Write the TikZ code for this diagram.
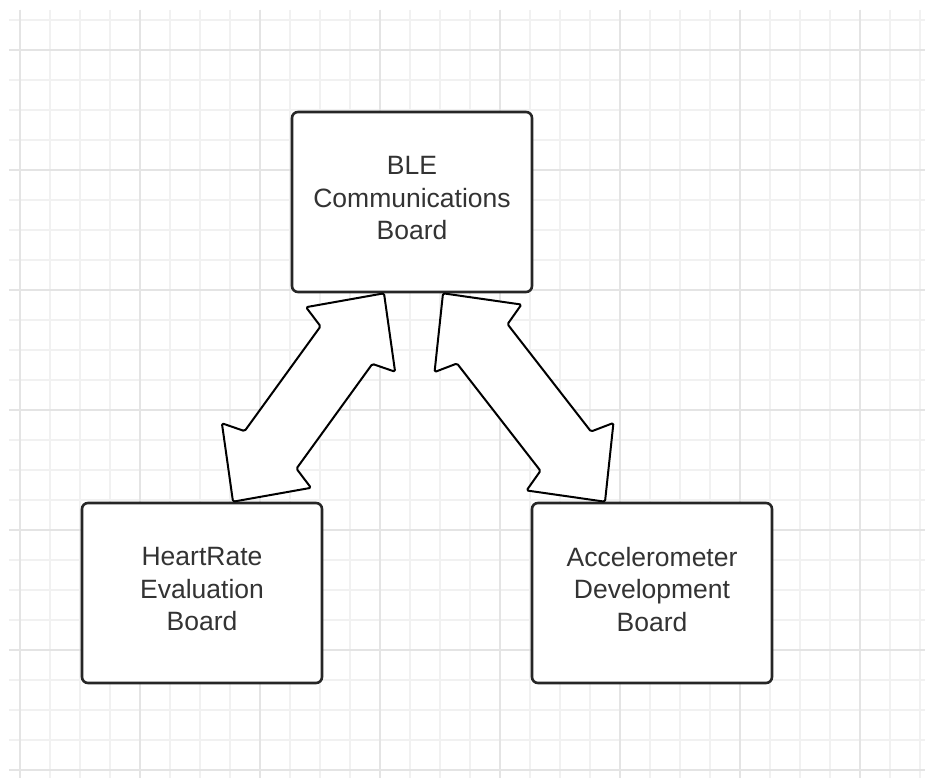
\documentclass[tikz,border=0pt]{standalone}
\usepackage{fontspec}
\setmainfont{Liberation Sans}
\usetikzlibrary{calc}
\definecolor{gridminor}{HTML}{F1F1F1}
\definecolor{gridmajor}{HTML}{E4E4E4}
\definecolor{boardtext}{HTML}{333333}
\tikzset{
  gridline/.style={draw=gridminor, line width=1.2pt},
  gridbold/.style={draw=gridmajor, line width=1.4pt},
  board/.style={draw=black!85, fill=white, line width=2.6pt, rounded corners=6pt,
    minimum width=240pt, minimum height=180pt, align=center, text=boardtext,
    text depth=8pt, font=\fontsize{26.5}{32.5}\selectfont},
  blockarrow/.style={draw=black, fill=white, line width=2pt, line join=round, rounded corners=1.5pt}
}
\newcommand{\dblblock}[2]{%
  \draw [blockarrow] (#1)
    -- ($(#1)!57pt!(#2)!55pt!90:(#2)$)
    -- ($(#1)!64pt!(#2)!32pt!90:(#2)$)
    -- ($(#2)!64pt!(#1)!32pt!-90:(#1)$)
    -- ($(#2)!57pt!(#1)!55pt!-90:(#1)$)
    -- (#2)
    -- ($(#2)!57pt!(#1)!55pt!90:(#1)$)
    -- ($(#2)!64pt!(#1)!32pt!90:(#1)$)
    -- ($(#1)!64pt!(#2)!32pt!-90:(#2)$)
    -- ($(#1)!57pt!(#2)!55pt!-90:(#2)$)
    -- cycle;}

\begin{document}
\begin{tikzpicture}[x=1pt, y=-1pt]
\useasboundingbox (0,0) rectangle (925,778);
\fill [white] (0,0) rectangle (925,778);
\foreach \x in {20,50,...,920} \draw [gridline] (\x,10) -- (\x,778);
\foreach \y in {20,50,...,770} \draw [gridline] (9,\y) -- (925,\y);
\foreach \x in {20,140,...,860} \draw [gridbold] (\x,10) -- (\x,778);
\foreach \y in {50,170,...,770} \draw [gridbold] (9,\y) -- (925,\y);

\node [board] (ble) at (412,202) {BLE\\Communications\\Board};
\node [board] (hr) at (202,593) {HeartRate\\Evaluation\\Board};
\node [board] (acc) at (652,593) {Accelerometer\\Development\\Board};

\coordinate (ble-l) at ([xshift=-28pt]ble.south);
\coordinate (ble-r) at ([xshift=31pt]ble.south);
\coordinate (hr-top) at ([xshift=31pt]hr.north);
\coordinate (acc-top) at ([xshift=-47pt]acc.north);

\dblblock{ble-l}{hr-top}
\dblblock{ble-r}{acc-top}
\end{tikzpicture}
\end{document}
